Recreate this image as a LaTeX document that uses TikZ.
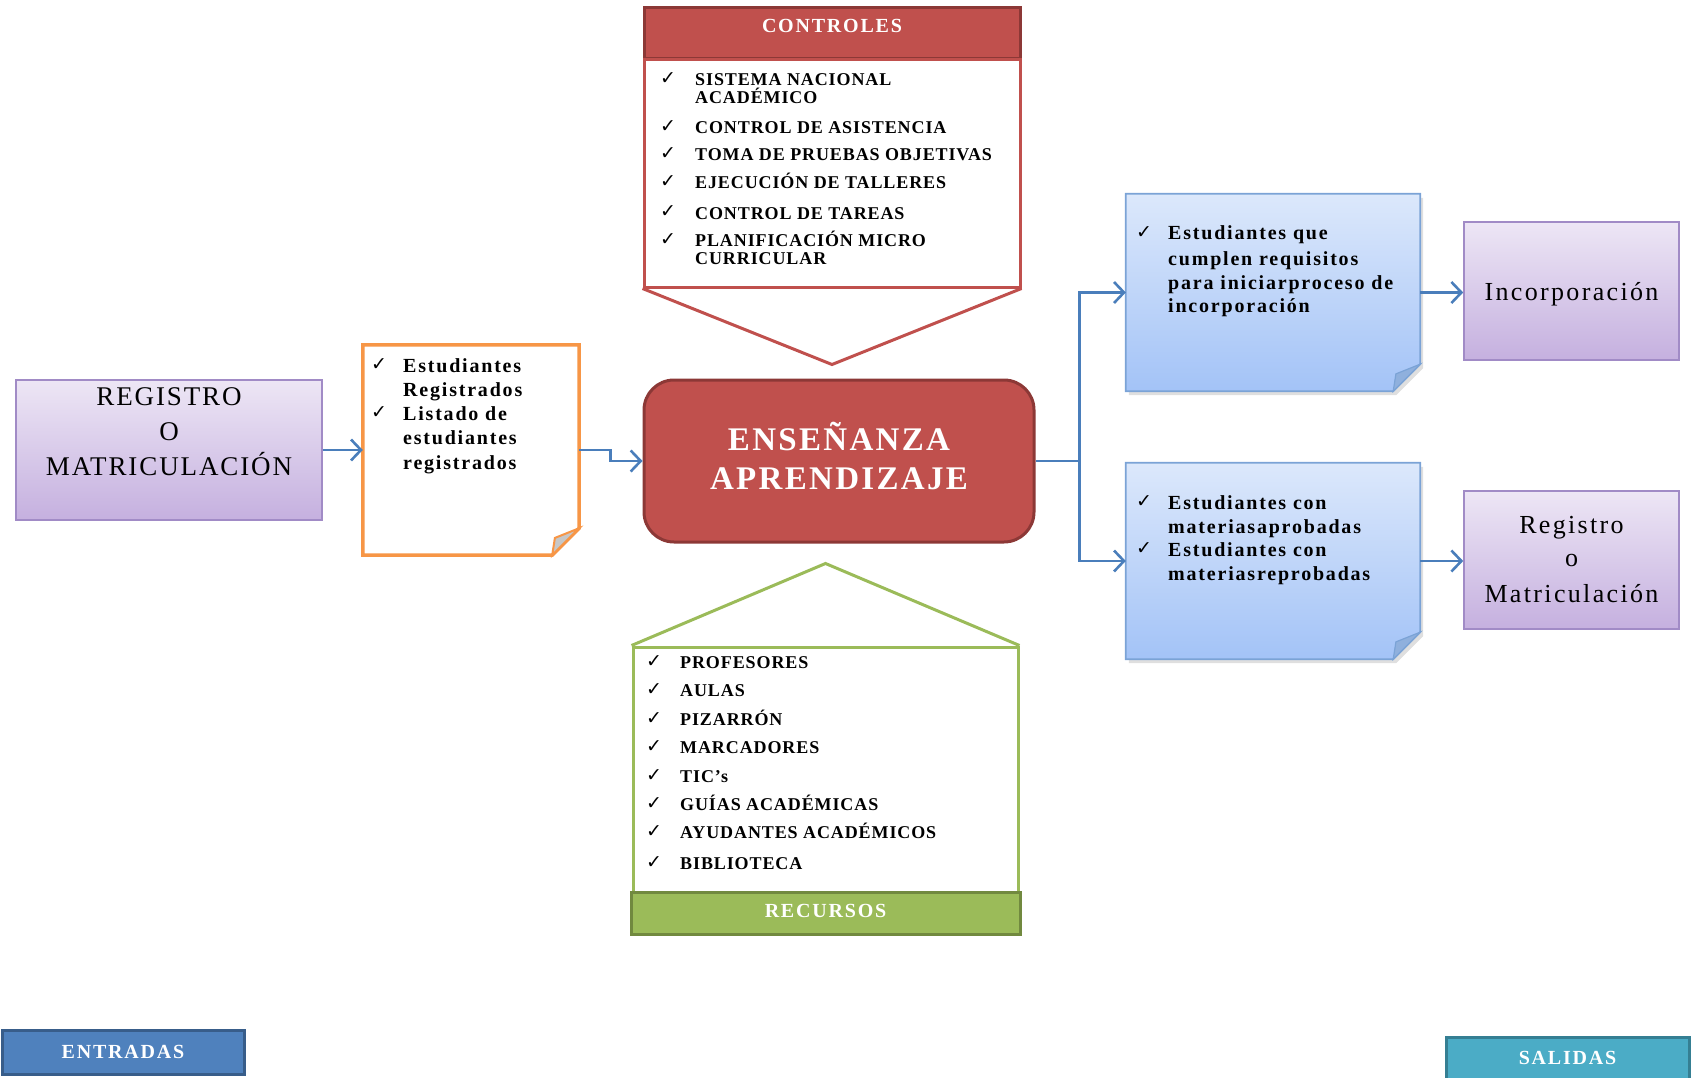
\documentclass[tikz,border=0pt]{standalone}
\usepackage{fontspec}
\setmainfont{Liberation Serif}
\newfontfamily\ckfont{DejaVu Sans}
\usetikzlibrary{arrows.meta,calc,shadows}

\definecolor{redfill}{HTML}{C0504D}
\definecolor{redline}{HTML}{8C3836}
\definecolor{grfill}{HTML}{9BBB59}
\definecolor{grline}{HTML}{71893F}
\definecolor{orline}{HTML}{F79646}
\definecolor{arrblue}{HTML}{4A7EBB}
\definecolor{bluetop}{HTML}{DCE8FB}
\definecolor{bluebot}{HTML}{A3C3F7}
\definecolor{blueline}{HTML}{7BA3D6}
\definecolor{bluefold}{HTML}{8FB0DD}
\definecolor{purtop}{HTML}{EDE6F5}
\definecolor{purbot}{HTML}{C5B0DF}
\definecolor{purline}{HTML}{A18BC6}
\definecolor{entfill}{HTML}{4F81BD}
\definecolor{entline}{HTML}{385D8A}
\definecolor{salfill}{HTML}{4BACC6}
\definecolor{salline}{HTML}{357F93}

% outline of a sheet with a folded lower right corner
\newcommand\noteoutline[3]{%
  \path[#1] (#2.north west) -- (#2.north east) -- ([yshift=#3]#2.south east)
    -- ([xshift=-#3]#2.south east) -- (#2.south west) -- cycle;}
\newcommand\notefold[3]{%
  \path[#1] ([xshift=-#3]#2.south east) -- ([yshift=#3]#2.south east)
    -- ([xshift=-0.9*#3,yshift=0.64*#3]#2.south east) -- cycle;}
% font size with letter spacing
\newcommand\spaced[2]{\fontsize{#1}{#1}\selectfont\addfontfeature{LetterSpace=#2}}

\tikzset{
  plain/.style={rectangle, inner sep=0},
  arr/.style={draw=arrblue, line width=2.6pt,
    -{Straight Barb[length=10pt,width=21pt,line width=2.6pt]}},
  ck/.style={anchor=base west, inner sep=0, font=\ckfont\fontsize{19}{19}\selectfont},
  listA/.style={anchor=base west, inner sep=0, font=\bfseries\spaced{18}{5}},
  listB/.style={anchor=base west, inner sep=0, font=\bfseries\spaced{20}{9}},
  label/.style={anchor=base, inner sep=0},
  purbox/.style={plain, draw=purline, line width=1.6pt, top color=purtop, bottom color=purbot},
  tag/.style={plain, line width=3pt},
  tagtext/.style={label, text=white, font=\bfseries\spaced{20}{9}},
}

\begin{document}
\begin{tikzpicture}[x=1pt,y=-1pt]
\useasboundingbox (0,0) rectangle (1691,1078);

% ---------- box shapes ----------
\node[plain, minimum width=306, minimum height=140, purbox] (reg) at (169,450) {};
\node[plain, minimum width=216, minimum height=210] (org) at (471,450) {};
\node[plain, draw=redline, fill=redfill, line width=3pt, rounded corners=30pt,
      minimum width=390, minimum height=162] (ens) at (839,461) {};
\node[plain, minimum width=294, minimum height=197] (bA) at (1273,292.5) {};
\node[plain, minimum width=294, minimum height=196] (bB) at (1273,561) {};
\node[plain, minimum width=215, minimum height=138, purbox] (inc) at (1571.5,291) {};
\node[plain, minimum width=215, minimum height=138, purbox] (rgB) at (1571.5,560) {};

% controls: header, body and downward point
\node[plain, draw=redline, fill=redfill, line width=3pt, minimum width=376, minimum height=51] (ctlhead) at (832,33.5) {};
\node[plain, draw=redfill, fill=white, line width=3pt, minimum width=376, minimum height=227] (ctlbody) at (832,173.5) {};
\draw[redfill, line width=3pt, line join=miter] (ctlbody.south west) -- ([yshift=-76pt]ctlbody.south) -- (ctlbody.south east);

% resources: roof, body and footer bar
\node[plain, draw=grfill, fill=white, line width=3pt, minimum width=385, minimum height=245] (grbody) at (825.5,769.5) {};
\draw[grfill, line width=3pt, line join=miter] (grbody.north west) -- ([yshift=82pt]grbody.north) -- (grbody.north east);
\node[plain, draw=grline, fill=grfill, line width=3pt, minimum width=389, minimum height=42] (grbar) at (825.5,913) {};

% sheets with folded corners
\noteoutline{draw=orline, fill=white, line width=3.5pt, line join=miter}{org}{27pt}
\notefold{draw=orline, fill=black!22, line width=2pt}{org}{27pt}
\noteoutline{draw=blueline, line width=1.8pt, top color=bluetop, bottom color=bluebot,
  drop shadow={opacity=0.25, shadow xshift=3pt, shadow yshift=-4pt}}{bA}{27pt}
\notefold{draw=blueline, fill=bluefold, line width=1.2pt}{bA}{27pt}
\noteoutline{draw=blueline, line width=1.8pt, top color=bluetop, bottom color=bluebot,
  drop shadow={opacity=0.25, shadow xshift=3pt, shadow yshift=-4pt}}{bB}{27pt}
\notefold{draw=blueline, fill=bluefold, line width=1.2pt}{bB}{27pt}

% corner tags
\node[tag, draw=entline, fill=entfill, minimum width=242, minimum height=44] (ent) at (123,1052) {};
\node[tag, draw=salline, fill=salfill, minimum width=243, minimum height=42] (sal) at (1567.5,1058) {};

% ---------- connectors ----------
\draw[arr] (reg) -- (org);
\draw[arr] (org.east) -- ++(31,0) |- (ens.west);
\coordinate (split) at ([xshift=44pt]ens.east);
\draw[arr] (ens.east) -- (split) |- (bA.west);
\draw[arr] (split) |- (bB.west);
\draw[arr] (bA.east) -- (bA.east -| inc.west);
\draw[arr] (bB.east) -- (bB.east -| rgB.west);

% ---------- texts ----------
\begin{scope}[every node/.append style={font=\spaced{27}{7}}]
  \node[label] (regt1) at (169,405) {REGISTRO};
  \node[label] (regt2) at (169,440) {O};
  \node[label] (regt3) at (169,475) {MATRICULACIÓN};
\end{scope}
\begin{scope}[every node/.append style={font=\spaced{26}{9}}]
  \node[label] (inct) at (1571.5,300) {Incorporación};
  \node[label] (rgt1) at (1571.5,533) {Registro};
  \node[label] (rgt2) at (1571.5,566) {o};
  \node[label] (rgt3) at (1571.5,602) {Matriculación};
\end{scope}
\node[label, text=white, font=\bfseries\spaced{33}{7}] (enst1) at (839,450) {ENSEÑANZA};
\node[label, text=white, font=\bfseries\spaced{33}{7}] (enst2) at (839,489) {APRENDIZAJE};

\node[tagtext] (ctlt) at (832,33) {CONTROLES};
\node[tagtext] (grt) at (825.5,917) {RECURSOS};
\node[tagtext] (entt) at (123,1058) {ENTRADAS};
\node[tagtext] (salt) at (1567.5,1064) {SALIDAS};

% controls list
\foreach \yy [count=\i] in {85,133,160,188,218,245}
  \node[ck] (ctlck\i) at (660,\yy) {✓};
\foreach \yy/\tx [count=\i] in {86/{SISTEMA NACIONAL},104/{ACADÉMICO},134/{CONTROL DE ASISTENCIA},
    161/{TOMA DE PRUEBAS OBJETIVAS},189/{EJECUCIÓN DE TALLERES},219/{CONTROL DE TAREAS},
    246/{PLANIFICACIÓN MICRO},264/{CURRICULAR}}
  \node[listA] (ctl\i) at (695,\yy) {\tx};

% resources list
\foreach \yy/\tx [count=\i] in {668/{PROFESORES},696/{AULAS},725/{PIZARRÓN},753/{MARCADORES},
    782/{TIC’s},810/{GUÍAS ACADÉMICAS},838/{AYUDANTES ACADÉMICOS},869/{BIBLIOTECA}}
{
  \node[ck] (grck\i) at (646,\yy-1) {✓};
  \node[listA] (gr\i) at (680,\yy) {\tx};
}

% entry sheet list
\foreach \yy [count=\i] in {370,418}
  \node[ck] (orck\i) at (371,\yy) {✓};
\foreach \yy/\tx [count=\i] in {372/{Estudiantes},396/{Registrados},420/{Listado de},
    444/{estudiantes},469/{registrados}}
  \node[listB] (or\i) at (403,\yy) {\tx};

% output sheet lists
\node[ck] (bAck1) at (1136,238) {✓};
\foreach \yy/\tx [count=\i] in {240/{Estudiantes que},265/{cumplen requisitos},
    289/{para iniciarproceso de},312/{incorporación}}
  \node[listB] (bAt\i) at (1168,\yy) {\tx};
\foreach \yy [count=\i] in {507,554}
  \node[ck] (bBck\i) at (1136,\yy) {✓};
\foreach \yy/\tx [count=\i] in {509/{Estudiantes con},533/{materiasaprobadas},
    556/{Estudiantes con},580/{materiasreprobadas}}
  \node[listB] (bBt\i) at (1168,\yy) {\tx};
\end{tikzpicture}
\end{document}
